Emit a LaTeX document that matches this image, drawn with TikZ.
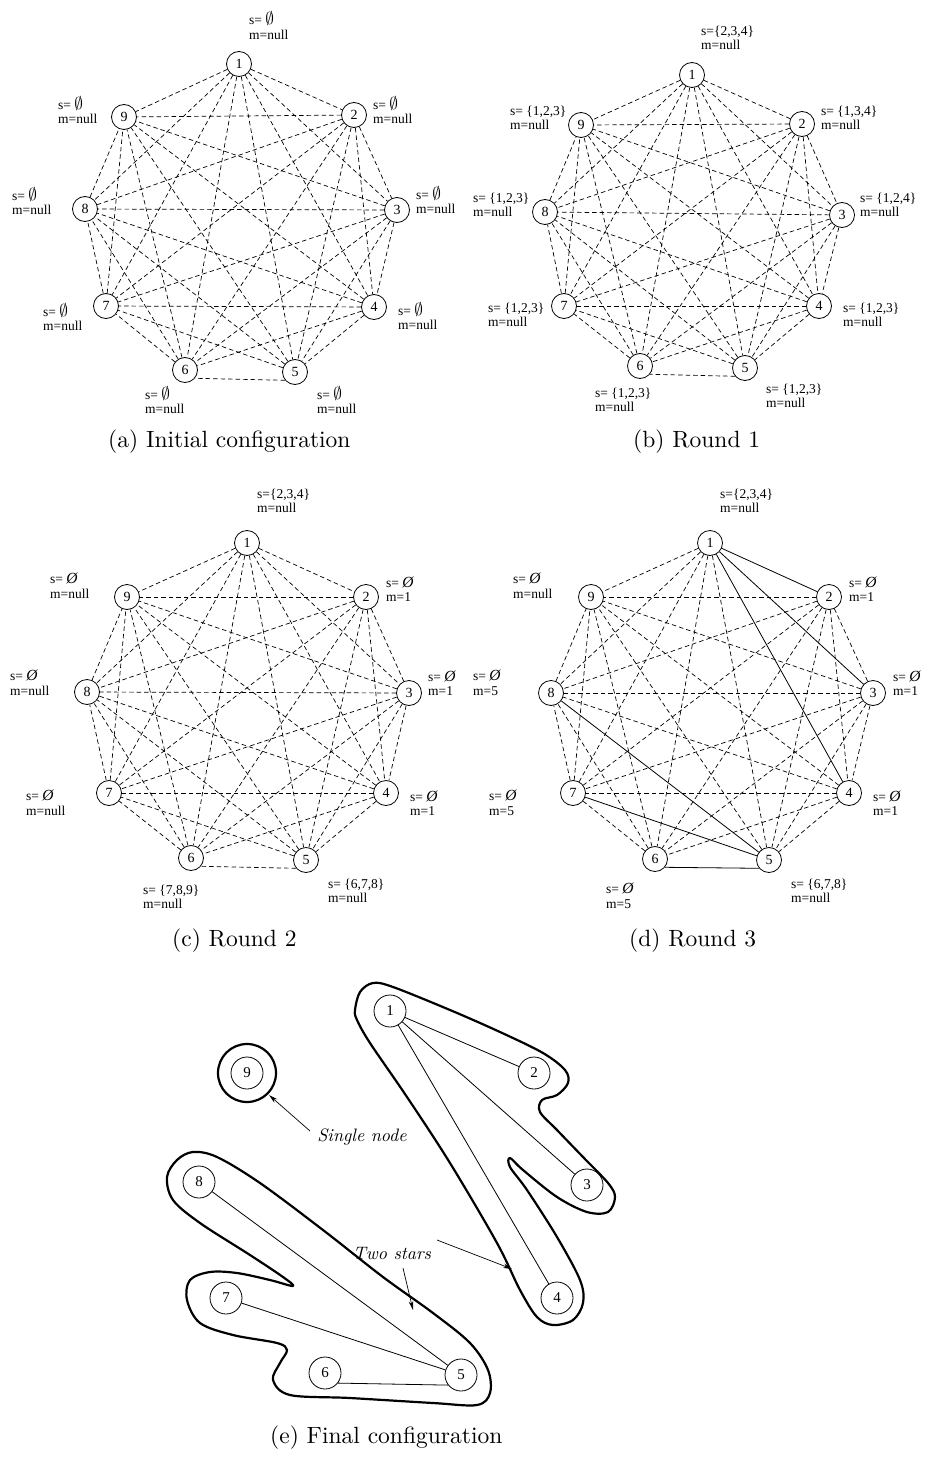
\documentclass[tikz,border=0pt]{standalone}
\usepackage{fontspec}
\newfontfamily\tms{Liberation Serif}
\newfontfamily\capf{lmroman10-regular.otf}
\newfontfamily\capit{lmroman10-italic.otf}
\usetikzlibrary{arrows.meta}
\tikzset{
 vtx/.style={circle,draw,line width=0.8pt,minimum size=25pt,inner sep=0pt,font=\tms\fontsize{14}{14}\selectfont},
 bigvtx/.style={vtx,minimum size=32pt,font=\tms\fontsize{15}{15}\selectfont},
 lab/.style={anchor=west,align=left,inner sep=0pt,font=\tms\fontsize{13.5}{14.5}\selectfont},
 dashedge/.style={line width=0.7pt,dash pattern=on 4.5pt off 3pt},
 solidedge/.style={line width=0.8pt},
 capt/.style={anchor=west,inner sep=0pt,font=\capf\fontsize{23.5}{27}\selectfont},
 blob/.style={line width=2.2pt,line join=round},
 note/.style={font=\capit\fontsize{18}{20}\selectfont,inner sep=1pt},
 pointer/.style={line width=0.7pt,-{Stealth[length=9pt,width=4.5pt]}}
}
\expandafter\def\csname solidd12\endcsname{}
\expandafter\def\csname solidd13\endcsname{}
\expandafter\def\csname solidd14\endcsname{}
\expandafter\def\csname solidd56\endcsname{}
\expandafter\def\csname solidd57\endcsname{}
\expandafter\def\csname solidd58\endcsname{}
\newcommand\drawkn[1]{%
 \foreach \i in {1,...,8}{%
  \pgfmathtruncatemacro\ii{\i+1}%
  \foreach \j in {\ii,...,9}{%
   \ifnum\i\j=56
     \ifcsname solid#1\i\j\endcsname
       \draw[solidedge] (#1\i.220) -- (#1\j.-40);
     \else
       \draw[dashedge] (#1\i.220) -- (#1\j.-40);
     \fi
   \else
   \ifcsname solid#1\i\j\endcsname
     \draw[solidedge] (#1\i) -- (#1\j);
   \else
     \draw[dashedge] (#1\i) -- (#1\j);
   \fi
   \fi}}}
\newcommand\es{{\fontsize{17}{14}\selectfont$\emptyset$}}
\newcommand\eo{{\fontsize{15.5}{14}\selectfont\itshape Ø}}
\begin{document}
\begin{tikzpicture}[x=1pt,y=-1pt]
\useasboundingbox (0,0) rectangle (927,1479);
% ---------- (a)
\node[vtx] (a1) at (239,64) {1};
\node[vtx] (a2) at (354,115) {2};
\node[vtx] (a3) at (397,210) {3};
\node[vtx] (a4) at (374,307) {4};
\node[vtx] (a5) at (295,372) {5};
\node[vtx] (a6) at (185,370) {6};
\node[vtx] (a7) at (106,306) {7};
\node[vtx] (a8) at (85,209) {8};
\node[vtx] (a9) at (124,117) {9};
\drawkn{a}
\node[lab] (la1) at (249,25.5) {s= \es\\m=null};
\node[lab] (la2) at (373,110) {s= \es\\m=null};
\node[lab] (la3) at (416,200) {s= \es\\m=null};
\node[lab] (la4) at (398,316) {s= \es\\m=null};
\node[lab] (la5) at (317,400) {s= \es\\m=null};
\node[lab] (la6) at (145,400) {s= \es\\m=null};
\node[lab] (la7) at (43,317) {s= \es\\m=null};
\node[lab] (la8) at (12,201) {s= \es\\m=null};
\node[lab] (la9) at (58,110) {s= \es\\m=null};
\node[capt] (ca) at (108,442) {(a) Initial configuration};
% ---------- (b)
\node[vtx] (b1) at (692,75) {1};
\node[vtx] (b2) at (802,124) {2};
\node[vtx] (b3) at (842,215) {3};
\node[vtx] (b4) at (819,306) {4};
\node[vtx] (b5) at (745,368) {5};
\node[vtx] (b6) at (640,366) {6};
\node[vtx] (b7) at (564,306) {7};
\node[vtx] (b8) at (545,212) {8};
\node[vtx] (b9) at (581,125) {9};
\drawkn{b}
\node[lab] (lb1) at (701,38) {s=\{2,3,4\}\\m=null};
\node[lab] (lb2) at (821,118) {s= \{1,3,4\}\\m=null};
\node[lab] (lb3) at (860,205) {s= \{1,2,4\}\\m=null};
\node[lab] (lb4) at (843,315) {s= \{1,2,3\}\\m=null};
\node[lab] (lb5) at (766,396) {s= \{1,2,3\}\\m=null};
\node[lab] (lb6) at (595,400) {s= \{1,2,3\}\\m=null};
\node[lab] (lb7) at (488,315) {s= \{1,2,3\}\\m=null};
\node[lab] (lb8) at (473,205) {s= \{1,2,3\}\\m=null};
\node[lab] (lb9) at (510,118) {s= \{1,2,3\}\\m=null};
\node[capt] (cb) at (633,442) {(b) Round 1};
% ---------- (c)
\node[vtx] (c1) at (247,543) {1};
\node[vtx] (c2) at (366,597) {2};
\node[vtx] (c3) at (409,693) {3};
\node[vtx] (c4) at (386,793) {4};
\node[vtx] (c5) at (306,860) {5};
\node[vtx] (c6) at (191,858) {6};
\node[vtx] (c7) at (109,793) {7};
\node[vtx] (c8) at (87,692) {8};
\node[vtx] (c9) at (127,597) {9};
\drawkn{c}
\node[lab] (lc1) at (257,501) {s=\{2,3,4\}\\m=null};
\node[lab] (lc2) at (386,589) {s= \eo\\m=1};
\node[lab] (lc3) at (428,683) {s= \eo\\m=1};
\node[lab] (lc4) at (410,803) {s= \eo\\m=1};
\node[lab] (lc5) at (328,891) {s= \{6,7,8\}\\m=null};
\node[lab] (lc6) at (143,897) {s= \{7,8,9\}\\m=null};
\node[lab] (lc7) at (26,803) {s= \eo\\m=null};
\node[lab] (lc8) at (10,683) {s= \eo\\m=null};
\node[lab] (lc9) at (50,586) {s= \eo\\m=null};
\node[capt] (cc) at (172,941) {(c) Round 2};
% ---------- (d)
\node[vtx] (d1) at (710,543) {1};
\node[vtx] (d2) at (829,597) {2};
\node[vtx] (d3) at (873,693) {3};
\node[vtx] (d4) at (849,793) {4};
\node[vtx] (d5) at (769,860) {5};
\node[vtx] (d6) at (655,859) {6};
\node[vtx] (d7) at (573,793) {7};
\node[vtx] (d8) at (551,693) {8};
\node[vtx] (d9) at (591,597) {9};
\drawkn{d}
\node[lab] (ld1) at (720,501) {s=\{2,3,4\}\\m=null};
\node[lab] (ld2) at (849,589) {s= \eo\\m=1};
\node[lab] (ld3) at (893,683) {s= \eo\\m=1};
\node[lab] (ld4) at (873,803) {s= \eo\\m=1};
\node[lab] (ld5) at (791,891) {s= \{6,7,8\}\\m=null};
\node[lab] (ld6) at (606,896) {s= \eo\\m=5};
\node[lab] (ld7) at (489,803) {s= \eo\\m=5};
\node[lab] (ld8) at (473,683) {s= \eo\\m=5};
\node[lab] (ld9) at (513,586) {s= \eo\\m=null};
\node[capt] (cd) at (629,941) {(d) Round 3};
% ---------- (e)
\node[bigvtx] (e1) at (390,1011) {1};
\node[bigvtx] (e2) at (534,1073) {2};
\node[bigvtx] (e3) at (587,1185) {3};
\node[bigvtx] (e4) at (557,1298) {4};
\node[bigvtx] (e5) at (461,1375) {5};
\node[bigvtx] (e6) at (325,1373) {6};
\node[bigvtx] (e7) at (226,1298) {7};
\node[bigvtx] (e8) at (199,1182) {8};
\node[bigvtx] (e9) at (247,1073) {9};
\foreach \a/\b in {1/2,1/3,1/4,5/7,5/8}{\draw[solidedge] (e\a) -- (e\b);}
\draw[solidedge] (e6.-38) -- (e5.218);
\draw[blob] (e9.center) circle (29);
\draw[blob] plot[smooth cycle,tension=0.55] coordinates {
 (355,1010) (360,992) (373,983) (393,987) (450,1010) (500,1032) (543,1053)
 (565,1070) (568,1083) (557,1095) (542,1100) (540,1112) (557,1130) (583,1157)
 (608,1183) (615,1197) (608,1212) (587,1212) (557,1197) (523,1170) (510,1158)
 (510,1167) (527,1190) (557,1237) (580,1280) (583,1303) (573,1320) (553,1325)
 (537,1317) (520,1290) (497,1243) (450,1163) (407,1097) (370,1043) (357,1020)};
\draw[blob] plot[smooth cycle,tension=0.55] coordinates {
 (167,1177) (177,1160) (193,1152) (217,1157) (260,1183) (323,1230) (383,1277)
 (433,1313) (470,1343) (488,1370) (490,1393) (477,1405) (433,1403) (350,1398)
 (290,1395) (273,1380) (280,1363) (287,1350) (277,1343) (233,1335) (200,1323)
 (187,1300) (190,1280) (210,1272) (237,1273) (270,1280) (293,1286) (283,1277)
 (250,1255) (200,1223) (173,1200)};
\node[note] (sn) at (362,1137) {Single node};
\node[note] (ts) at (392,1253) {Two stars};
\coordinate (sns) at (310,1131);
\coordinate (e9o) at (269,1095);
\coordinate (tsa) at (437,1240);
\coordinate (tsa2) at (512,1269);
\coordinate (tsb) at (403,1268);
\coordinate (tsb2) at (413,1310);
\draw[pointer] (sns) -- (e9o);
\draw[pointer] (tsa) -- (tsa2);
\draw[pointer] (tsb) -- (tsb2);
\node[capt] (ce) at (270,1438) {(e) Final configuration};
\end{tikzpicture}
\end{document}
